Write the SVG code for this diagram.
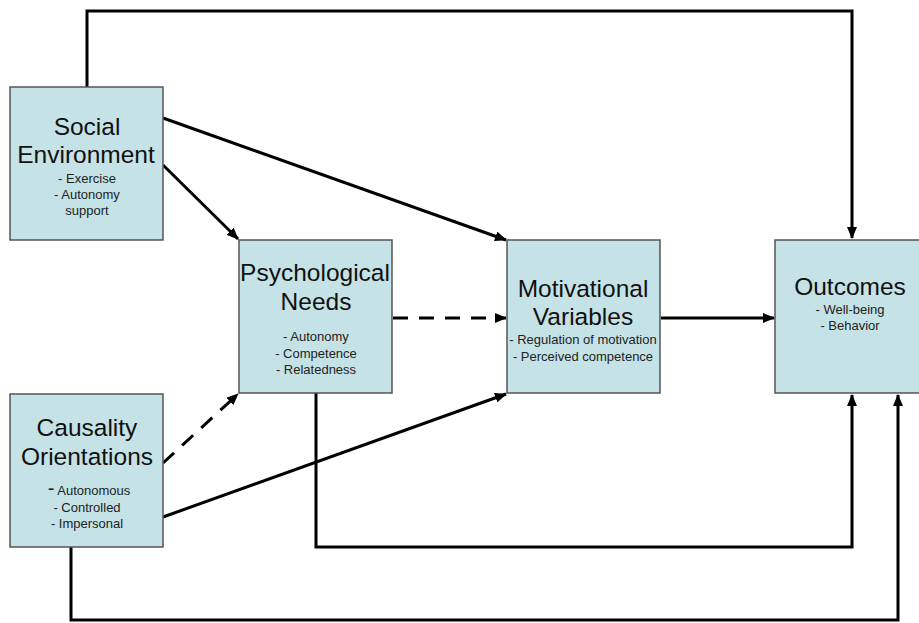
<svg xmlns="http://www.w3.org/2000/svg" width="919" height="623" viewBox="0 0 919 623">
<defs>
<marker id="ah" markerWidth="12" markerHeight="10" refX="11" refY="5" orient="auto" markerUnits="userSpaceOnUse">
<path d="M0,0 L12,5 L0,10 Z" fill="#000"/>
</marker>
<style>
.box{fill:#c5e2e6;stroke:#555;stroke-width:1.5}
.t{font-family:"Liberation Sans",Arial,sans-serif;font-size:24.5px;fill:#111;text-anchor:middle}
.s{font-family:"Liberation Sans",Arial,sans-serif;font-size:13px;fill:#222;text-anchor:middle}
.c{fill:none;stroke:#000;stroke-width:3}
.d{stroke-dasharray:15,11}
</style>
</defs>
<rect width="919" height="623" fill="#fff"/>
<g id="connectors">
<polyline class="c" points="87,87 87,11 852,11 852,238" marker-end="url(#ah)"/>
<line class="c" x1="163" y1="118" x2="506" y2="240" marker-end="url(#ah)"/>
<line class="c" x1="163" y1="165" x2="238" y2="239" marker-end="url(#ah)"/>
<line class="c d" x1="393" y1="318" x2="506" y2="318" marker-end="url(#ah)"/>
<line class="c" x1="661" y1="318" x2="774" y2="318" marker-end="url(#ah)"/>
<line class="c d" x1="163" y1="463" x2="238" y2="394" marker-end="url(#ah)"/>
<line class="c" x1="163" y1="517" x2="506" y2="394" marker-end="url(#ah)"/>
<polyline class="c" points="316,393 316,547 852,547 852,395" marker-end="url(#ah)"/>
<polyline class="c" points="71,547 71,620 898,620 898,395" marker-end="url(#ah)"/>
</g>
<g id="social-environment">
<rect class="box" x="10" y="87" width="153" height="153"/>
<text class="t" x="87" y="135">Social</text>
<text class="t" x="86" y="163">Environment</text>
<text class="s" x="87" y="183">- Exercise</text>
<text class="s" x="87" y="199">- Autonomy</text>
<text class="s" x="87" y="215">support</text>
</g>
<g id="psychological-needs">
<rect class="box" x="239" y="240" width="153" height="153"/>
<text class="t" x="315" y="281">Psychological</text>
<text class="t" x="316" y="310">Needs</text>
<text class="s" x="316" y="341">-  Autonomy</text>
<text class="s" x="316" y="358">- Competence</text>
<text class="s" x="316" y="374">- Relatedness</text>
</g>
<g id="motivational-variables">
<rect class="box" x="507" y="240" width="153" height="153"/>
<text class="t" x="583" y="297">Motivational</text>
<text class="t" x="583" y="325">Variables</text>
<text class="s" x="583" y="344">- Regulation of motivation</text>
<text class="s" x="583" y="361">- Perceived competence</text>
</g>
<g id="outcomes">
<rect class="box" x="775" y="240" width="153" height="153"/>
<text class="t" x="850" y="295">Outcomes</text>
<text class="s" x="850" y="314">- Well-being</text>
<text class="s" x="850" y="330">- Behavior</text>
</g>
<g id="causality-orientations">
<rect class="box" x="10" y="394" width="153" height="153"/>
<text class="t" x="87" y="436">Causality</text>
<text class="t" x="87" y="465">Orientations</text>
<text class="s" x="89" y="495"><tspan font-size="20">-</tspan>  Autonomous</text>
<text class="s" x="87" y="512">- Controlled</text>
<text class="s" x="87" y="528">- Impersonal</text>
</g>
</svg>
